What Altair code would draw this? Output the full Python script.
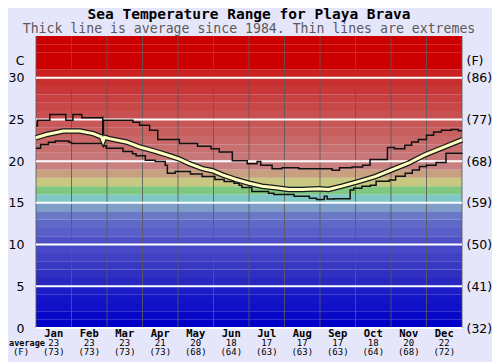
import altair as alt
import pandas as pd

# ---------------- data ----------------
months = ["Jan", "Feb", "Mar", "Apr", "May", "Jun", "Jul", "Aug", "Sep", "Oct", "Nov", "Dec"]
avg_c = [23, 23, 23, 21, 20, 18, 17, 17, 17, 18, 20, 22]
avg_f = [73, 73, 73, 73, 68, 64, 63, 63, 63, 64, 68, 72]

# positions in months (0 = 1 Jan, 12 = 31 Dec), values in deg C
avg_pos = [0.0, 0.30, 0.77, 1.23, 1.61, 1.84, 1.89, 1.93, 2.07, 2.54, 2.92, 3.38, 3.76, 4.04,
           4.32, 4.69, 4.97, 5.25, 5.63, 6.0, 6.37, 6.75, 7.12, 7.49, 7.96, 8.24, 8.62, 9.08,
           9.55, 10.02, 10.49, 10.95, 11.42, 12.0]
avg_val = [22.8, 23.2, 23.6, 23.6, 23.3, 22.9, 22.4, 22.85, 22.7, 22.3, 21.7, 21.15, 20.65, 20.25,
           19.7, 19.1, 18.85, 18.35, 17.8, 17.35, 17.0, 16.8, 16.6, 16.6, 16.7, 16.6, 17.0, 17.55,
           18.15, 18.95, 19.75, 20.75, 21.55, 22.55]

max_pos = [0.0, 0.04, 0.39, 0.84, 1.04, 1.29, 1.87, 1.88, 1.90, 2.73, 2.92, 3.20, 3.43, 4.04,
           4.55, 4.93, 5.16, 5.53, 5.95, 6.23, 6.33, 6.65, 6.93, 7.40, 8.34, 8.55, 8.90, 9.20,
           9.41, 9.90, 10.10, 10.39, 10.58, 10.77, 11.0, 11.2, 11.42, 11.7, 11.9, 12.0]
max_val = [24.25, 24.9, 25.6, 24.9, 25.6, 25.2, 25.25, 22.4, 24.9, 24.65, 24.3, 23.7, 22.6, 22.1,
           21.8, 21.5, 21.1, 20.05, 19.7, 19.95, 19.5, 19.1, 19.2, 19.1, 18.9, 19.2, 19.3, 19.5,
           20.2, 21.65, 21.5, 21.9, 22.3, 22.6, 23.1, 23.5, 23.7, 23.8, 23.65, 23.65]

min_pos = [0.0, 0.13, 0.35, 0.54, 0.93, 1.0, 1.89, 1.98, 2.45, 2.72, 2.82, 3.08, 3.36, 3.64,
           3.70, 3.92, 4.35, 4.68, 5.04, 5.30, 5.58, 5.72, 5.80, 6.08, 6.55, 6.70, 7.27, 7.70,
           7.90, 8.12, 8.20, 8.40, 8.85, 8.95, 9.18, 9.42, 9.58, 9.95, 10.13, 10.40, 10.60,
           10.80, 11.0, 11.27, 11.55, 12.0]
min_val = [21.55, 22.0, 22.25, 22.4, 22.25, 22.1, 21.85, 21.55, 21.15, 20.9, 20.65, 20.1, 19.95, 19.5,
           18.55, 18.75, 18.45, 18.15, 17.8, 17.55, 17.35, 17.1, 16.85, 16.35, 16.15, 16.0, 15.8, 15.55,
           15.4, 15.8, 15.45, 15.5, 16.55, 16.75, 17.0, 17.1, 17.6, 17.75, 18.2, 18.55, 18.95,
           19.35, 19.5, 19.85, 20.95, 21.0]

band_colors = ["#0000c8", "#0808c8", "#1010c8", "#1414c8", "#1c1cc8", "#2828c0", "#3030c0",
               "#3838c4", "#4040c4", "#4848c8", "#5050c8", "#5860c8", "#6068c8", "#6a78c8",
               "#7ea0c8", "#80c8c8", "#80c880", "#c8c880", "#c8a080", "#c88080", "#c87878",
               "#c87070", "#c86868", "#c86060", "#c85858", "#c85050", "#c84848", "#c84040",
               "#c83838", "#c83030", "#cc2020", "#cc0000", "#cc0000", "#cc0000", "#cc0000"]
grid_c = [0, 5, 10, 15, 20, 25, 30]
unit_label_pos = 32.1

title = "Sea Temperature Range for Playa Brava"
subtitle = "Thick line is average since 1984. Thin lines are extremes"

# ---------------- chart ----------------
W, H = 426, 292
MONO = "DejaVu Sans Mono"
SANS = "DejaVu Sans"

yscale = alt.Scale(domain=[0, 35], nice=False, zero=False)
xscale = alt.Scale(domain=[0, 12], nice=False, zero=False)

bands = pd.DataFrame({"lo": list(range(len(band_colors))),
                      "hi": [i + 1 for i in range(len(band_colors))],
                      "color": band_colors})
monthlines = pd.DataFrame({"m": list(range(13))})
grid = pd.DataFrame({"v": grid_c})
axis_ticks = grid_c + [unit_label_pos]
avg_df = pd.DataFrame({"m": avg_pos, "v": avg_val})
max_df = pd.DataFrame({"m": max_pos, "v": max_val})
min_df = pd.DataFrame({"m": min_pos, "v": min_val})
mon_df = pd.DataFrame({"mid": [i + 0.5 for i in range(12)], "name": months,
                       "c": [str(v) for v in avg_c], "f": [f"({v})" for v in avg_f]})

band_layer = alt.Chart(bands).mark_rect().encode(
    y=alt.Y("lo:Q", scale=yscale, axis=None),
    y2="hi:Q",
    x=alt.value(0), x2=alt.value(W),
    color=alt.Color("color:N", scale=None),
)

month_layer = alt.Chart(monthlines).mark_rule(color="#5a5a5a", strokeWidth=1, opacity=0.85).encode(
    x=alt.X("m:Q", scale=xscale, axis=None),
    y=alt.value(0), y2=alt.value(H),
)

left_axis = alt.Axis(values=axis_ticks, orient="left", ticks=False, domain=False, grid=False,
                     labelPadding=12, labelFont=SANS, labelFontSize=12.5, labelColor="#000000",
                     labelExpr="datum.value > 31 ? 'C' : datum.label", labelBaseline="middle")
right_axis = alt.Axis(values=axis_ticks, orient="right", ticks=False, domain=False, grid=False,
                      labelPadding=4, labelFont=SANS, labelFontSize=12.5, labelColor="#000000",
                      labelExpr="datum.value > 31 ? '(F)' : '(' + format(datum.value * 9 / 5 + 32, 'd') + ')'",
                      labelBaseline="middle")

grid_layer = alt.Chart(grid).mark_rule(color="white", strokeWidth=2).encode(
    y=alt.Y("v:Q", scale=yscale, axis=left_axis),
    x=alt.value(0), x2=alt.value(W),
)
grid_right = alt.Chart(grid).mark_rule(opacity=0).encode(
    y=alt.Y("v:Q", scale=yscale, axis=right_axis),
    x=alt.value(0), x2=alt.value(W),
)

def thin(df):
    return alt.Chart(df).mark_line(interpolate="step-after", color="#111111", strokeWidth=1.5).encode(
        x=alt.X("m:Q", scale=xscale, axis=None),
        y=alt.Y("v:Q", scale=yscale, axis=None),
    )

avg_outline = alt.Chart(avg_df).mark_line(color="#1a1a1a", strokeWidth=5.5).encode(
    x=alt.X("m:Q", scale=xscale, axis=None),
    y=alt.Y("v:Q", scale=yscale, axis=None),
)
avg_core = alt.Chart(avg_df).mark_line(color="#ffffc0", strokeWidth=3).encode(
    x=alt.X("m:Q", scale=xscale, axis=None),
    y=alt.Y("v:Q", scale=yscale, axis=None),
)

mon_name = alt.Chart(mon_df).mark_text(font=MONO, fontSize=10.5, fontWeight="bold", color="#000",
                                       baseline="middle").encode(
    x=alt.X("mid:Q", scale=xscale, axis=None), y=alt.value(H + 5.5), text="name:N")
mon_c = alt.Chart(mon_df).mark_text(font=MONO, fontSize=9, color="#000", baseline="middle").encode(
    x=alt.X("mid:Q", scale=xscale, axis=None), y=alt.value(H + 14.5), text="c:N")
mon_f = alt.Chart(mon_df).mark_text(font=MONO, fontSize=9, color="#000", baseline="middle").encode(
    x=alt.X("mid:Q", scale=xscale, axis=None), y=alt.value(H + 23.5), text="f:N")

side_avg = alt.Chart(pd.DataFrame({"t": ["average"]})).mark_text(
    font=MONO, fontSize=8.5, fontWeight="bold", color="#000", baseline="middle", align="center").encode(
    x=alt.value(-9), y=alt.value(H + 14.5), text="t:N")
side_f = alt.Chart(pd.DataFrame({"t": ["(F)"]})).mark_text(
    font=MONO, fontSize=9, color="#000", baseline="middle", align="center").encode(
    x=alt.value(-15), y=alt.value(H + 23.5), text="t:N")

title_layer = alt.Chart(pd.DataFrame({"t": [title]})).mark_text(
    font=MONO, fontSize=14.5, fontWeight="bold", color="#000", baseline="alphabetic", align="center").encode(
    x=alt.value(W / 2), y=alt.value(-17.5), text="t:N")
sub_layer = alt.Chart(pd.DataFrame({"t": [subtitle]})).mark_text(
    font=MONO, fontSize=13.2, color="#5a5a5a", baseline="alphabetic", align="center").encode(
    x=alt.value(W / 2), y=alt.value(-3.5), text="t:N")

chart = alt.layer(
    band_layer, month_layer, grid_layer, grid_right,
    thin(max_df), thin(min_df), avg_outline, avg_core,
    mon_name, mon_c, mon_f, side_avg, side_f, title_layer, sub_layer,
).resolve_axis(y="independent").properties(
    width=W, height=H,
    autosize=alt.AutoSizeParams(type="none"),
    padding={"left": 28, "top": 28, "right": 30, "bottom": 34},
    background="#e6e6fa",
).configure_view(stroke=None)

chart.save("out.html", embed_options={"renderer": "svg", "actions": False})
